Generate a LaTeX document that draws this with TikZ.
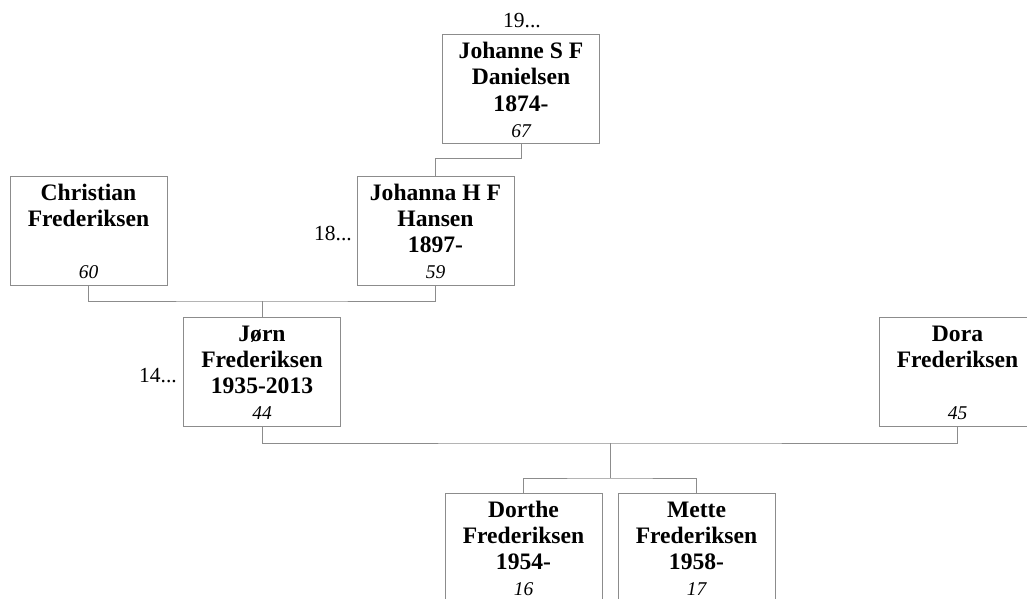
\documentclass[tikz,border=0pt]{standalone}
\usepackage{fontspec}
\setmainfont{Liberation Serif}
\definecolor{lg}{RGB}{140,140,140}
\tikzset{
  pbox/.style={draw=lg, line width=1pt, fill=white, minimum width=157pt, minimum height=109pt, inner sep=0pt},
  btxt/.style={anchor=base, inner sep=0pt, font=\fontsize{23.6}{26}\selectfont\bfseries},
  ntxt/.style={anchor=base, inner sep=0pt, font=\fontsize{19.5}{22}\selectfont\itshape},
  gtxt/.style={inner sep=0pt, font=\fontsize{21.5}{24}\selectfont},
  link/.style={draw=lg, line width=1pt}
}
\newcommand\personbox[7]{%
  \node[pbox] (#1) at (#2,#3) {};
  \node[btxt] at ([yshift=-25pt]#1.north) {#4};
  \node[btxt] at ([yshift=-51pt]#1.north) {#5};
  \node[btxt] at ([yshift=-77pt]#1.north) {#6};
  \node[ntxt] at ([yshift=-103pt]#1.north) {#7};
}
\begin{document}
\begin{tikzpicture}[x=1pt,y=-1pt]
\useasboundingbox (0,0) rectangle (1027,599);
\clip (0,0) rectangle (1027,599);
% connectors
\coordinate (jA) at (521,158);
\coordinate (jB) at (262,301);
\coordinate (jC) at (610,443);
\coordinate (jD) at (610,478);
\personbox{johanne}{521}{89}{Johanne S F}{Danielsen}{1874-}{67}
\personbox{christian}{88.5}{230.5}{Christian}{Frederiksen}{}{60}
\personbox{johanna}{435.5}{230.5}{Johanna H F}{Hansen}{1897-}{59}
\personbox{jorn}{262}{371.5}{Jørn}{Frederiksen}{1935-2013}{44}
\personbox{dora}{957.5}{371.5}{Dora}{Frederiksen}{}{45}
\personbox{dorthe}{523.5}{547.5}{Dorthe}{Frederiksen}{1954-}{16}
\personbox{mette}{696.5}{547.5}{Mette}{Frederiksen}{1958-}{17}
\draw[link] (johanne.south) -- (jA) -| (johanna.north);
\draw[link] (christian.south) |- (jB) -| (johanna.south);
\draw[link] (jB) -- (jorn.north);
\draw[link] (jorn.south) |- (jC) -| (dora.south);
\draw[link] (jC) -- (jD);
\draw[link] (dorthe.north) |- (jD) -| (mette.north);
% generation labels
\node[gtxt, anchor=base] (g19) at (522,28) {19...};
\node[gtxt, anchor=base east] (g18) at (352,240) {18...};
\node[gtxt, anchor=base east] (g14) at (177,382) {14...};
\end{tikzpicture}
\end{document}
